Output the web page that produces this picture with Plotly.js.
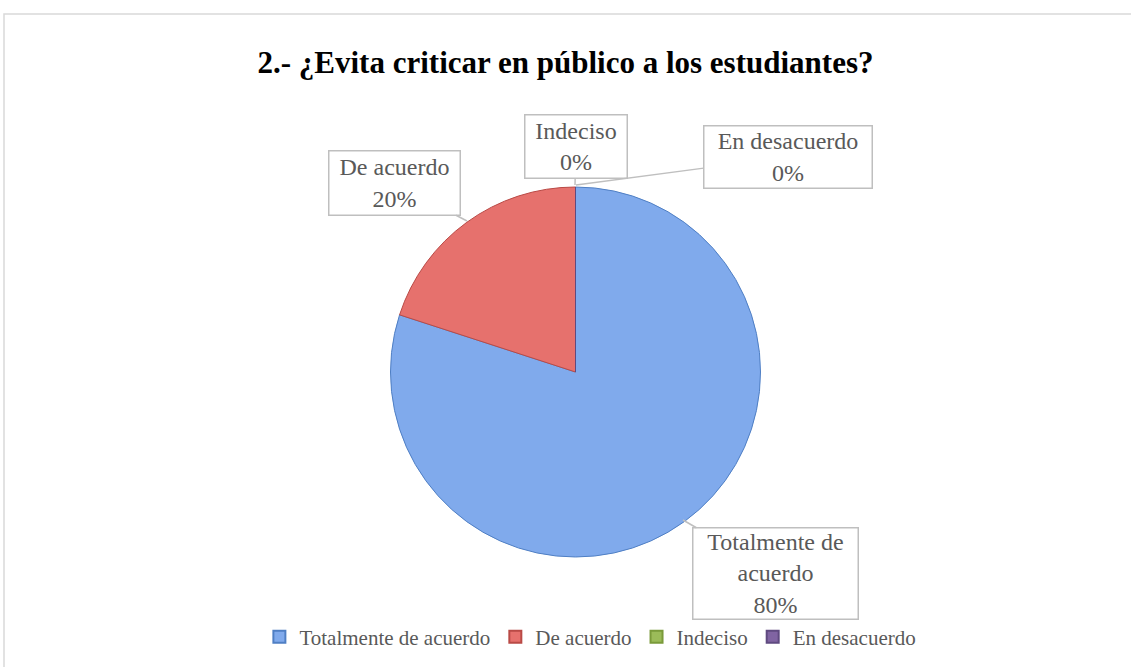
<!DOCTYPE html>
<html>
<head>
<meta charset="utf-8">
<script src="https://cdn.plot.ly/plotly-3.0.1.min.js"></script>
<style>html,body{margin:0;padding:0;background:#fff;}#chart{width:1131px;height:667px;}</style>
</head>
<body>
<div id="chart"></div>
<script>
// ---- data ----
const chartTitle = '2.- ¿Evita criticar en público a los estudiantes?';
const categories = ['Totalmente de acuerdo', 'De acuerdo', 'Indeciso', 'En desacuerdo'];
const values = [80, 20, 0, 0];
const calloutLabels = ['Totalmente de<br>acuerdo', 'De acuerdo', 'Indeciso', 'En desacuerdo'];

// ---- styles ----
const sliceColors = ['#80AAEC', '#E6716D', '#9BBB59', '#8064A2'];
const sliceLines = ['#4F7FC4', '#B94A46', '#7A9A3A', '#5F4A80'];
const W = 1131, H = 667;
const px = v => v / W;
const py = v => 1 - v / H;
const FONT = 'Liberation Serif, DejaVu Serif, serif';

const total = values.reduce((a, b) => a + b, 0);
const pctText = values.map(v => Math.round(v / total * 100) + '%');

// callout geometry (box center, box size, anchor point on pie), in pixels
const callouts = [
  {cx: 775.5, cy: 573.5, w: 167, h: 93, tx: 683, ty: 520},
  {cx: 394.5, cy: 183, w: 133, h: 66, tx: 467, ty: 221},
  {cx: 576, cy: 146.5, w: 104, h: 65, tx: 575, ty: 185},
  {cx: 788, cy: 157, w: 170, h: 64, tx: 576, ty: 185}
];

const annotations = categories.map((c, i) => {
  const g = callouts[i];
  return {
    xref: 'paper', yref: 'paper',
    x: px(g.tx), y: py(g.ty),
    ax: g.cx - g.tx, ay: g.cy - g.ty,
    showarrow: true, arrowhead: 0, arrowwidth: 1.5, arrowcolor: '#BFBFBF',
    text: calloutLabels[i] + '<br>' + pctText[i],
    font: {family: FONT, size: 24, color: '#595959'},
    align: 'center',
    bgcolor: '#FFFFFF', bordercolor: '#BFBFBF', borderwidth: 1.5, borderpad: 0,
    width: g.w - 3, height: g.h - 3
  };
});

const trace = {
  type: 'pie',
  labels: categories,
  values: values,
  sort: false,
  direction: 'clockwise',
  rotation: 0,
  textinfo: 'none',
  hoverinfo: 'label+percent',
  marker: {colors: sliceColors, line: {color: sliceLines, width: 1}},
  domain: {x: [px(575.5 - 185), px(575.5 + 185)], y: [py(557), py(187)]},
  showlegend: true
};

const layout = {
  width: W, height: H,
  margin: {l: 0, r: 0, t: 0, b: 0},
  paper_bgcolor: '#FFFFFF',
  title: {
    text: '<b>' + chartTitle + '</b>',
    font: {family: FONT, size: 31, color: '#000000'},
    x: 0.500, xanchor: 'center', y: py(62), yanchor: 'middle'
  },
  legend: {
    orientation: 'h', x: 0.522, xanchor: 'center', y: py(637), yanchor: 'middle',
    font: {family: FONT, size: 21, color: '#595959'},
    itemsizing: 'constant', traceorder: 'normal', itemwidth: 30
  },
  annotations: annotations,
  shapes: [{
    type: 'rect', xref: 'paper', yref: 'paper',
    x0: px(4), x1: 1.01, y0: -0.01, y1: py(14),
    line: {color: '#D9D9D9', width: 1.5}, fillcolor: 'rgba(0,0,0,0)', layer: 'below'
  }]
};

Plotly.newPlot('chart', [trace], layout, {displayModeBar: false, staticPlot: true});
</script>
</body>
</html>
